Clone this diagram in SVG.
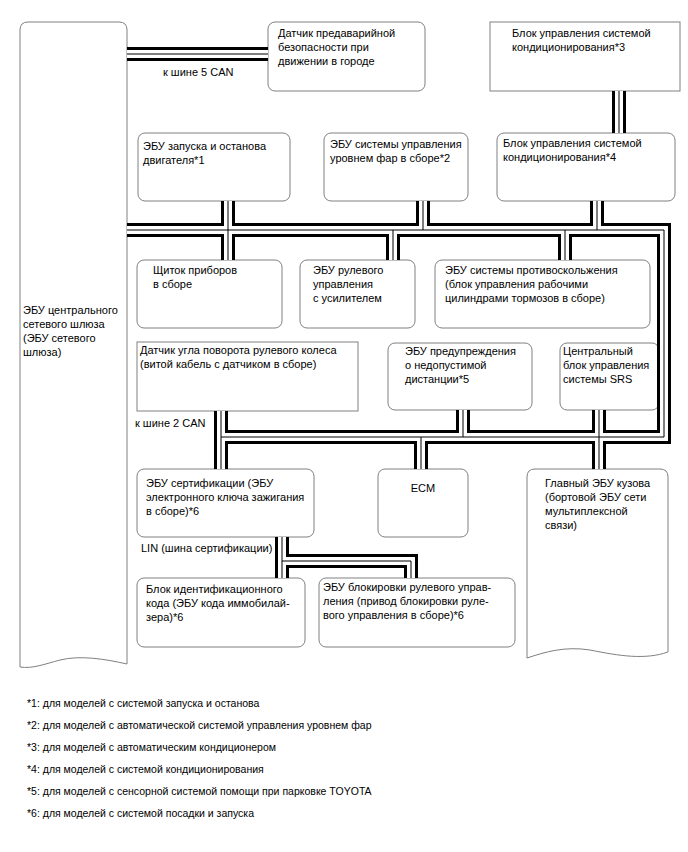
<svg xmlns="http://www.w3.org/2000/svg" width="688" height="852" viewBox="0 0 688 852">
<style>
.box{fill:#fff;stroke:#808080;stroke-width:1}
.t{font-family:"Liberation Sans",Arial,sans-serif;font-size:11px;fill:#000}
.f{font-family:"Liberation Sans",Arial,sans-serif;font-size:10.5px;fill:#000}
.bw{fill:none;stroke:#000;stroke-width:14;stroke-linejoin:miter}
.ww{fill:none;stroke:#fff;stroke-width:8;stroke-linejoin:miter}
.bm{fill:none;stroke:#000;stroke-width:1;stroke-linejoin:miter}
</style>
<defs>
<path id="bus" d="M127,230 H664 V437 H221 M221,411 V469 M228,201 V260 M423,201 V230 M597,201 V230 M393,230 V260 M565,230 V260 M463,410 V437 M599,410 V469 M421,437 V469 M127,54 H268 M619,91 V133 M282,537 V578 M282,561 H411 V578"/>
</defs>
<rect width="688" height="852" fill="#fff"/>
<g id="gateway">
<path class="box" d="M20,30 Q20,22 28,22 H119 Q127,22 127,30 V664 C105,659 80,655 60,660 C45,664 32,669 20,667 Z"/>
<text class="t" x="23" y="314">ЭБУ центрального</text>
<text class="t" x="23" y="328">сетевого шлюза</text>
<text class="t" x="23" y="342">(ЭБУ сетевого</text>
<text class="t" x="23" y="356">шлюза)</text>
</g>
<g id="pre-crash">
<rect class="box" x="268" y="22" width="157" height="69" rx="7"/>
<text class="t" x="278" y="37">Датчик предаварийной</text>
<text class="t" x="278" y="51">безопасности при</text>
<text class="t" x="278" y="65">движении в городе</text>
</g>
<g id="ac3">
<rect class="box" x="490" y="22" width="190" height="69"/>
<text class="t" x="512" y="37">Блок управления системой</text>
<text class="t" x="512" y="51">кондиционирования*3</text>
</g>
<g id="stopstart">
<rect class="box" x="138" y="133" width="152" height="68" rx="7"/>
<text class="t" x="143" y="150">ЭБУ запуска и останова</text>
<text class="t" x="143" y="164">двигателя*1</text>
</g>
<g id="headlight">
<rect class="box" x="324" y="133" width="144" height="68" rx="7"/>
<text class="t" x="330" y="148">ЭБУ системы управления</text>
<text class="t" x="330" y="162">уровнем фар в сборе*2</text>
</g>
<g id="ac4">
<rect class="box" x="497" y="133" width="178" height="68" rx="7"/>
<text class="t" x="503" y="147">Блок управления системой</text>
<text class="t" x="503" y="161">кондиционирования*4</text>
</g>
<g id="cluster">
<rect class="box" x="137" y="260" width="145" height="68" rx="7"/>
<text class="t" x="153" y="274">Щиток приборов</text>
<text class="t" x="153" y="288">в сборе</text>
</g>
<g id="eps">
<rect class="box" x="300" y="260" width="115" height="68" rx="7"/>
<text class="t" x="313" y="274">ЭБУ рулевого</text>
<text class="t" x="313" y="288">управления</text>
<text class="t" x="313" y="302">с усилителем</text>
</g>
<g id="abs">
<rect class="box" x="435" y="260" width="215" height="68" rx="7"/>
<text class="t" x="445" y="274">ЭБУ системы противоскольжения</text>
<text class="t" x="445" y="288">(блок управления рабочими</text>
<text class="t" x="445" y="302">цилиндрами тормозов в сборе)</text>
</g>
<g id="steer-angle">
<rect class="box" x="137" y="342" width="221" height="69"/>
<text class="t" x="140" y="354">Датчик угла поворота рулевого колеса</text>
<text class="t" x="140" y="368">(витой кабель с датчиком в сборе)</text>
</g>
<g id="clearance">
<rect class="box" x="388" y="343" width="144" height="67" rx="7"/>
<text class="t" x="405" y="355">ЭБУ предупреждения</text>
<text class="t" x="405" y="369">о недопустимой</text>
<text class="t" x="405" y="383">дистанции*5</text>
</g>
<g id="srs">
<rect class="box" x="560" y="343" width="99" height="67" rx="7"/>
<text class="t" x="563" y="355">Центральный</text>
<text class="t" x="563" y="369">блок управления</text>
<text class="t" x="563" y="383">системы SRS</text>
</g>
<g id="certification">
<rect class="box" x="137" y="469" width="177" height="68" rx="7"/>
<text class="t" x="146" y="487">ЭБУ сертификации (ЭБУ</text>
<text class="t" x="146" y="501">электронного ключа зажигания</text>
<text class="t" x="146" y="515">в сборе)*6</text>
</g>
<g id="ecm">
<rect class="box" x="378" y="469" width="90" height="68" rx="7"/>
<text class="t" x="423" y="492" text-anchor="middle">ECM</text>
</g>
<g id="main-body">
<path class="box" d="M527,477 Q527,469 535,469 H660 Q668,469 668,477 V652 C645,660 620,656 590,650 C565,646 545,652 527,658 Z"/>
<text class="t" x="545" y="487">Главный ЭБУ кузова</text>
<text class="t" x="545" y="501">(бортовой ЭБУ сети</text>
<text class="t" x="545" y="515">мультиплексной</text>
<text class="t" x="545" y="529">связи)</text>
</g>
<g id="immobiliser">
<rect class="box" x="137" y="578" width="168" height="69" rx="7"/>
<text class="t" x="146" y="593">Блок идентификационного</text>
<text class="t" x="146" y="607">кода (ЭБУ кода иммобилай-</text>
<text class="t" x="146" y="621">зера)*6</text>
</g>
<g id="steer-lock">
<rect class="box" x="319" y="578" width="196" height="69" rx="7"/>
<text class="t" x="323" y="591">ЭБУ блокировки рулевого управ-</text>
<text class="t" x="323" y="605">ления (привод блокировки руле-</text>
<text class="t" x="323" y="619">вого управления в сборе)*6</text>
</g>
<g id="connectors">
<use href="#bus" class="bw"/>
<use href="#bus" class="ww"/>
<use href="#bus" class="bm"/>
</g>
<g id="labels">
<text class="t" x="163" y="76">к шине 5 CAN</text>
<text class="t" x="135" y="427">к шине 2 CAN</text>
<text class="t" x="141" y="552">LIN (шина сертификации)</text>
</g>
<g id="notes">
<text class="f" x="27" y="707">*1: для моделей с системой запуска и останова</text>
<text class="f" x="27" y="729">*2: для моделей с автоматической системой управления уровнем фар</text>
<text class="f" x="27" y="751">*3: для моделей с автоматическим кондиционером</text>
<text class="f" x="27" y="773">*4: для моделей с системой кондиционирования</text>
<text class="f" x="27" y="795">*5: для моделей с сенсорной системой помощи при парковке TOYOTA</text>
<text class="f" x="27" y="817">*6: для моделей с системой посадки и запуска</text>
</g>
</svg>
